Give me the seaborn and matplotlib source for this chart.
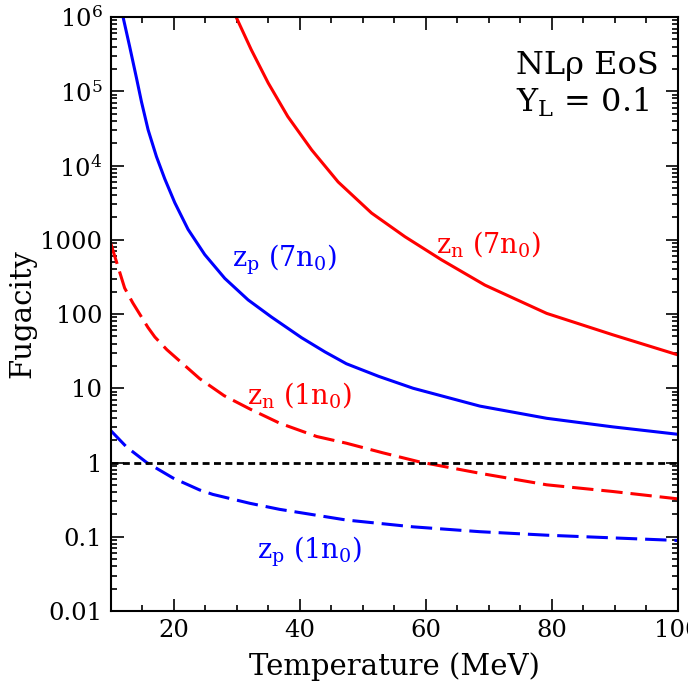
import numpy as np
import pandas as pd
import seaborn as sns
import matplotlib
matplotlib.use("Agg")
import matplotlib.pyplot as plt
from matplotlib.ticker import MultipleLocator, FixedLocator, FixedFormatter, LogLocator, NullFormatter

# Fugacity curves vs temperature (MeV)
T_zp7 = [11.95, 13.0, 14.08, 14.87, 15.93, 17.25, 18.57, 20.16, 22.27, 24.92, 28.1,
         31.8, 35.5, 40.3, 44.0, 47.4, 52.5, 58.0, 68.6, 79.2, 89.7, 100.0]
z_zp7 = [1.0e6, 4.0e5, 1.51e5, 7.24e4, 3.02e4, 1.32e4, 6.61e3, 3.16e3, 1.38e3, 631.0, 302.0,
         155.0, 91.2, 47.9, 30.9, 21.4, 14.5, 10.0, 5.75, 3.94, 3.02, 2.40]

T_zn7 = [29.9, 32.3, 35.0, 38.1, 41.9, 46.1, 51.4, 56.7, 62.5, 69.4, 79.2, 89.7, 100.0]
z_zn7 = [1.0e6, 3.63e5, 1.29e5, 4.57e4, 1.62e4, 6.0e3, 2.29e3, 1.10e3, 537.0, 245.0, 102.0, 52.5, 28.2]

T_zn1 = [10.0, 12.2, 13.5, 15.9, 17.0, 18.9, 24.1, 28.0, 32.1, 36.8, 42.7, 47.4, 53.2,
         59.0, 68.6, 79.2, 89.7, 100.0]
z_zn1 = [891.0, 224.0, 141.0, 66.0, 49.0, 33.1, 13.5, 7.94, 5.25, 3.39, 2.24, 1.82, 1.35,
         1.02, 0.716, 0.501, 0.407, 0.324]

T_zp1 = [10.0, 12.5, 15.7, 19.9, 24.1, 26.2, 32.1, 36.8, 47.4, 58.0, 68.6, 79.2, 89.7, 100.0]
z_zp1 = [2.69, 1.62, 1.0, 0.617, 0.427, 0.372, 0.282, 0.234, 0.168, 0.136, 0.117, 0.105, 0.0966, 0.0891]

y_ticks = [0.01, 0.1, 1, 10, 100, 1000, 1e4, 1e5, 1e6]
y_tick_labels = ["0.01", "0.1", "1", "10", "100", "1000", r"$10^4$", r"$10^5$", r"$10^6$"]

sns.set_style("ticks")
plt.rcParams["font.family"] = ["DejaVu Serif"]
plt.rcParams["mathtext.fontset"] = "dejavuserif"
for key in ["text.color", "axes.labelcolor", "xtick.color", "ytick.color", "axes.edgecolor"]:
    plt.rcParams[key] = "black"

fig = plt.figure(figsize=(6.88, 6.83), dpi=100)
ax = fig.add_axes([0.161, 0.1054, 0.824, 0.8697])

dash = (0, (7.0, 2.6))
series = [
    (T_zp7, z_zp7, "blue", "-"),
    (T_zn7, z_zn7, "red", "-"),
    (T_zn1, z_zn1, "red", dash),
    (T_zp1, z_zp1, "blue", dash),
]
for T, z, c, ls in series:
    df = pd.DataFrame({"T": T, "z": z})
    sns.lineplot(data=df, x="T", y="z", ax=ax, color=c, linewidth=2.2,
                 linestyle=ls, estimator=None, sort=True)

ax.axhline(1.0, color="black", linewidth=2.0, linestyle=(0, (2.5, 1.6)))

ax.set_yscale("log")
ax.set_xlim(10, 100)
ax.set_ylim(0.01, 1e6)

ax.xaxis.set_major_locator(MultipleLocator(20))
ax.xaxis.set_minor_locator(MultipleLocator(5))
ax.yaxis.set_major_locator(FixedLocator(y_ticks))
ax.yaxis.set_major_formatter(FixedFormatter(y_tick_labels))
ax.yaxis.set_minor_locator(LogLocator(base=10, subs=np.arange(2, 10), numticks=20))
ax.yaxis.set_minor_formatter(NullFormatter())

ax.tick_params(which="both", direction="in", top=True, right=True, labelsize=17.5, width=1.2)
ax.tick_params(which="major", length=9, pad=6)
ax.tick_params(which="minor", length=4.5)
for s in ax.spines.values():
    s.set_linewidth(1.5)

ax.set_xlabel("Temperature (MeV)", fontsize=21, labelpad=7)
ax.set_ylabel("Fugacity", fontsize=21, labelpad=3)

lab_fs = 19.5
ax.text(29.2, 10**2.73, r"z$_\mathrm{p}$ (7n$_0$)", color="blue", fontsize=lab_fs, va="center")
ax.text(61.7, 10**2.94, r"z$_\mathrm{n}$ (7n$_0$)", color="red", fontsize=lab_fs, va="center")
ax.text(31.7, 10**0.91, r"z$_\mathrm{n}$ (1n$_0$)", color="red", fontsize=lab_fs, va="center")
ax.text(33.2, 10**-1.2, r"z$_\mathrm{p}$ (1n$_0$)", color="blue", fontsize=lab_fs, va="center")

ax.text(0.714, 0.904, "NLρ EoS", transform=ax.transAxes, ha="left", va="baseline", fontsize=23)
ax.text(0.714, 0.840, r"Y$_\mathrm{L}$ = 0.1", transform=ax.transAxes, ha="left", va="baseline", fontsize=23)

fig.savefig("out.png", dpi=100)
